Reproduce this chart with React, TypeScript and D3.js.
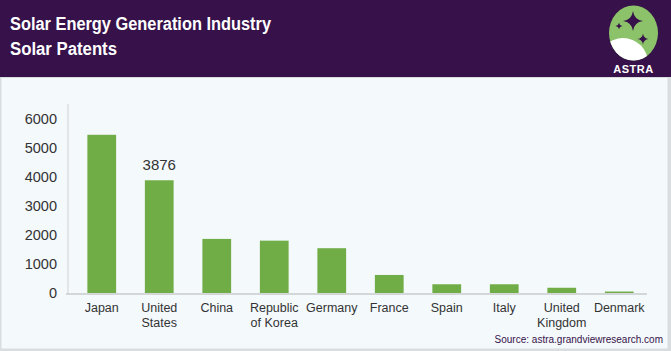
import React from "react";
import * as d3 from "d3";

const countries = [
  "Japan",
  "United States",
  "China",
  "Republic of Korea",
  "Germany",
  "France",
  "Spain",
  "Italy",
  "United Kingdom",
  "Denmark",
];
const patents = [5440, 3876, 1860, 1800, 1540, 620, 300, 300, 180, 50];
const yTicks = [0, 1000, 2000, 3000, 4000, 5000, 6000];
const labelLines: string[][] = [
  ["Japan"],
  ["United", "States"],
  ["China"],
  ["Republic", "of Korea"],
  ["Germany"],
  ["France"],
  ["Spain"],
  ["Italy"],
  ["United", "Kingdom"],
  ["Denmark"],
];

const W = 671;
const H = 351;

const App: React.FC = () => {
  const x = d3
    .scaleBand<string>()
    .domain(countries)
    .range([73, 648])
    .paddingInner(0.5)
    .paddingOuter(0.25);
  const y = d3.scaleLinear().domain([0, 6000]).range([293, 118.5]);
  const font = "'Liberation Sans', Arial, sans-serif";
  const mid = (c: string) => (x(c) ?? 0) + x.bandwidth() / 2;

  return (
    <svg
      width={W}
      height={H}
      style={{ position: "absolute", left: 0, top: 0 }}
      fontFamily={font}
    >
      {/* header */}
      <rect x={0} y={0} width={W} height={77} fill="#36114a" />
      <rect x={0} y={77} width={W} height={H - 77} fill="#d9dde0" />
      <rect x={1.5} y={78} width={666} height={270.5} fill="#f4f9fc" />

      <text x={10} y={30} fill="#fff" fontSize={17.5} fontWeight="bold" textLength={261} lengthAdjust="spacingAndGlyphs">
        Solar Energy Generation Industry
      </text>
      <text x={10} y={55} fill="#fff" fontSize={17.5} fontWeight="bold" textLength={107} lengthAdjust="spacingAndGlyphs">
        Solar Patents
      </text>

      {/* logo */}
      <clipPath id="logoClip">
        <ellipse cx={633.5} cy={33} rx={24.5} ry={27.5} />
      </clipPath>
      <ellipse cx={633.5} cy={33} rx={24.5} ry={27.5} fill="#8cc26a" />
      <g clipPath="url(#logoClip)">
        <ellipse cx={623} cy={63} rx={25} ry={25} fill="#fff" />
      </g>
      {[
        [633, 21, 10],
        [619, 26, 3.5],
        [643, 39, 5.5],
      ].map(([cx, cy, r], i) => {
        const k = r * 0.12;
        return (
          <path
            key={i}
            d={`M${cx},${cy - r} Q${cx + k},${cy - k} ${cx + r},${cy} Q${cx + k},${cy + k} ${cx},${cy + r} Q${cx - k},${cy + k} ${cx - r},${cy} Q${cx - k},${cy - k} ${cx},${cy - r}Z`}
            fill="#36114a"
          />
        );
      })}
      <text x={633.5} y={73} textAnchor="middle" fill="#fff" fontSize={11} fontWeight="bold" letterSpacing={0.5}>
        ASTRA
      </text>

      {/* axes */}
      <line x1={68} x2={68} y1={104} y2={294} stroke="#d0d3d6" />
      <line x1={66} x2={647} y1={294} y2={294} stroke="#c8cbce" strokeWidth={1.5} />
      {yTicks.map((t) => (
        <text key={t} x={57} y={y(t) + 5} textAnchor="end" fontSize={14.5} fill="#333">
          {t}
        </text>
      ))}

      {/* bars */}
      {countries.map((c, i) => (
        <rect
          key={c}
          x={x(c)}
          y={y(patents[i])}
          width={x.bandwidth()}
          height={y(0) - y(patents[i])}
          fill="#70ad47"
        />
      ))}
      <text x={mid("United States")} y={y(patents[1]) - 10} textAnchor="middle" fontSize={15} fill="#333">
        {patents[1]}
      </text>

      {countries.map((c, i) => (
        <text key={c} x={mid(c)} y={312} textAnchor="middle" fontSize={12.5} fill="#333">
          {labelLines[i].map((l, j) => (
            <tspan key={j} x={mid(c)} dy={j === 0 ? 0 : 15}>
              {l}
            </tspan>
          ))}
        </text>
      ))}

      <text x={663} y={343} textAnchor="end" fontSize={10} fill="#36114a">
        Source: astra.grandviewresearch.com
      </text>
    </svg>
  );
};

export default App;
